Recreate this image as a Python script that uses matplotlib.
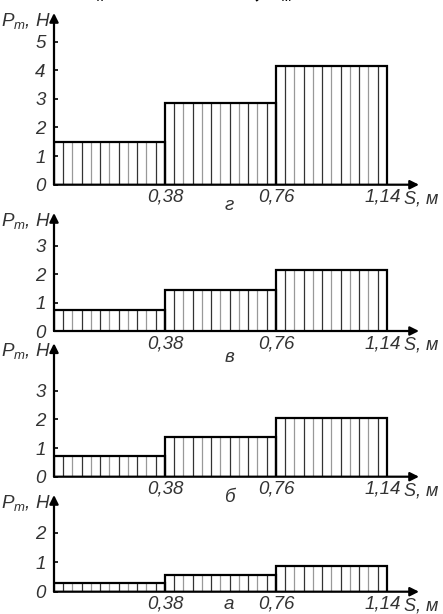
import matplotlib
matplotlib.use('Agg')
import matplotlib.pyplot as plt
import matplotlib.transforms as mtransforms
import numpy as np

# data
edges = [0.0, 0.38, 0.76, 1.14]
xtick_labels = ['0,38', '0,76', '1,14']
p_g = [1.5, 2.85, 4.15]
p_v = [0.75, 1.45, 2.15]
p_b = [0.72, 1.38, 2.05]
p_a = [0.28, 0.58, 0.86]
names = ['г', 'в', 'б', 'а']
yticks_g = [0, 1, 2, 3, 4, 5]
yticks_v = [0, 1, 2, 3]
yticks_b = [0, 1, 2, 3]
yticks_a = [0, 1, 2]

plt.rcParams['font.family'] = ['Liberation Sans', 'DejaVu Sans']
plt.rcParams['font.style'] = 'italic'
plt.rcParams['mathtext.fontset'] = 'custom'
plt.rcParams['mathtext.it'] = 'Liberation Sans:italic'
plt.rcParams['mathtext.rm'] = 'Liberation Sans'

W, H = 443, 614
fig = plt.figure(figsize=(W / 100, H / 100), dpi=100)
FS = 13.5
TC = '#333333'

# (top px, baseline px, ymax, values, yticks, name, name offset px)
panels = [
    (13, 184.7, 6.0, p_g, yticks_g, names[0], 21),
    (213, 331, 4.15, p_v, yticks_v, names[1], 26),
    (343.3, 476.7, 4.65, p_b, yticks_b, names[2], 21),
    (495, 591.7, 3.28, p_a, yticks_a, names[3], 13),
]
left_px, right_px = 54, 419
xmax = 1.25
shift_left = mtransforms.ScaledTranslation(-4 / 100, 0, fig.dpi_scale_trans)

for top, base, ymax, vals, yt, name, name_off in panels:
    ax = fig.add_axes([left_px / W, 1 - base / H, (right_px - left_px) / W, (base - top) / H])
    ax.patch.set_visible(False)
    ax.set_xlim(0, xmax)
    ax.set_ylim(0, ymax)
    for s in ax.spines.values():
        s.set_visible(False)

    for i in range(3):
        x0, x1 = edges[i], edges[i + 1]
        hx = np.linspace(x0, x1, 13)[1:-1]
        cols = ['#333333' if k % 2 == 0 else '#999999' for k in range(len(hx))]
        ax.vlines(hx, 0, vals[i], colors=cols, lw=0.9)
        ax.plot([x0, x0, x1, x1], [0, vals[i], vals[i], 0], color='black', lw=1.6,
                solid_joinstyle='miter')

    # axes with arrows
    ax.annotate('', xy=(0, 1), xycoords='axes fraction', xytext=(0, 0),
                arrowprops=dict(arrowstyle='-|>', lw=1.6, color='black', mutation_scale=13,
                                shrinkA=0, shrinkB=0))
    ax.annotate('', xy=(1, 0), xycoords='axes fraction', xytext=(0, 0),
                arrowprops=dict(arrowstyle='-|>', lw=1.6, color='black', mutation_scale=13,
                                shrinkA=0, shrinkB=0))

    ax.set_yticks(yt)
    ax.set_yticklabels([str(v) for v in yt], fontsize=FS, color=TC)
    ax.tick_params(axis='y', direction='in', length=3, width=1.2, pad=6)
    ax.set_xticks(edges[1:])
    ax.set_xticklabels(xtick_labels, fontsize=FS, color=TC)
    ax.tick_params(axis='x', length=0, pad=3)
    last = ax.get_xticklabels()[-1]
    last.set_transform(last.get_transform() + shift_left)

    ax.annotate(r'$P_{m}$, Н', xy=(0, ymax), xycoords='data',
                xytext=(-3, -8), textcoords='offset pixels', ha='right', va='center',
                fontsize=FS, color=TC, annotation_clip=False)
    ax.annotate('S, м', xy=(1.2, 0), xycoords='data', xytext=(0, -14),
                textcoords='offset pixels', ha='left', va='center',
                fontsize=13, color=TC, annotation_clip=False)
    ax.annotate(name, xy=(0.6, 0), xycoords='data', xytext=(0, -name_off),
                textcoords='offset pixels', ha='center', va='center',
                fontsize=FS, color=TC, annotation_clip=False)

# caption line at the very top, mostly outside the picture as in the reference
fig.text(0.53, 1 - 4 / H, 'c$_к$ = 2000 Н/м ; v$_м$ = 2 м/с', ha='center', va='bottom',
         fontsize=15, family='DejaVu Serif', weight='bold', style='normal')

fig.savefig('out.png', dpi=100)
